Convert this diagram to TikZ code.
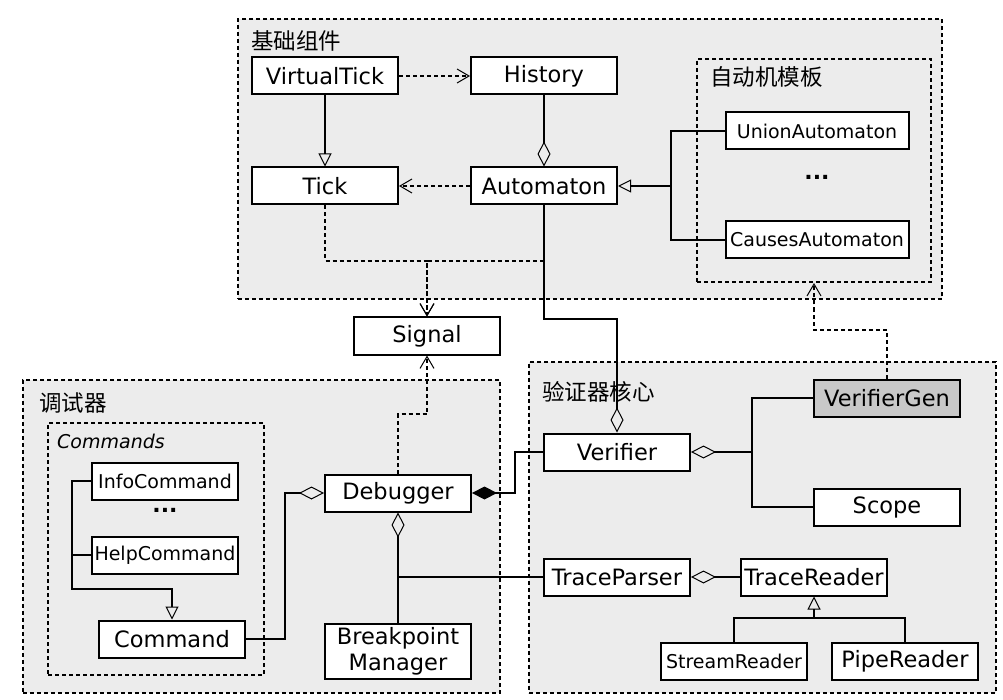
\documentclass[tikz,border=0pt]{standalone}
\usepackage{fontspec}
\setmainfont{DejaVu Sans}
\newfontfamily\cjk{Noto Sans CJK SC}
\usepackage{tikz}
\usetikzlibrary{arrows.meta}
\definecolor{groupgray}{RGB}{236,236,236}
\definecolor{gengray}{RGB}{200,200,200}
\tikzstyle{class} = [rectangle, draw, line width=2pt, fill=white,
                     minimum width=146pt, minimum height=37pt, inner sep=0pt,
                     text centered, font=\fontsize{22.5}{26}\selectfont]
\tikzstyle{smallclass} = [class, font=\fontsize{19}{22}\selectfont]
\tikzstyle{group} = [rectangle, draw, line width=2pt, fill=groupgray,
                     dash pattern=on 4pt off 3pt, inner sep=0pt]
\tikzstyle{grouplabel} = [anchor=west, inner sep=0pt, font=\cjk\fontsize{22.5}{25}\selectfont]
\tikzstyle{line} = [line width=2pt]
\tikzstyle{depend} = [line, dash pattern=on 4pt off 3pt,
                      -{Straight Barb[length=12pt, width=14pt, line width=1pt]}]
\tikzstyle{inherit} = [line, -{Triangle[open, length=13pt, width=13pt, line width=1pt]}]
\tikzstyle{aggregate} = [line, {Diamond[open, length=25pt, width=13pt, line width=1pt]}-]
\tikzstyle{compose} = [line, {Diamond[length=25pt, width=13pt]}-]

\begin{document}
\begin{tikzpicture}[x=1pt, y=-1pt]
    \fill[white] (0,0) rectangle (1003,700);
    \useasboundingbox (0,0) rectangle (1003,700);

    % Groups
    \node[group, minimum width=704pt, minimum height=280pt] (basegrp) at (590,159) {};
    \node[group, minimum width=234pt, minimum height=223pt] (templates) at (814,170.5) {};
    \node[group, minimum width=477pt, minimum height=313pt] (debuggergrp) at (261.5,536.5) {};
    \node[group, minimum width=216pt, minimum height=252pt] (commands) at (156,549) {};
    \node[group, minimum width=467pt, minimum height=331pt] (coregrp) at (762.5,527.5) {};
    \node[grouplabel] (baselabel) at (251,41) {基础组件};
    \node[grouplabel] (tpllabel) at (710,77) {自动机模板};
    \node[grouplabel] (dbglabel) at (39,403) {调试器};
    \node[grouplabel] (corelabel) at (542,392) {验证器核心};
    \node[anchor=west, inner sep=0pt, font=\fontsize{19}{22}\selectfont\itshape] (cmdlabel) at (57,441) {Commands};

    % Base components
    \node[class] (virtualtick) at (325,76) {VirtualTick};
    \node[class] (history) at (544,76) {History};
    \node[class] (tick) at (325,186) {Tick};
    \node[class] (automaton) at (544,186) {Automaton};
    \node[smallclass, minimum width=183pt] (union) at (817,131) {UnionAutomaton};
    \node[anchor=base, font=\fontsize{22}{26}\selectfont\bfseries] (tpldots) at (817,180) {...};
    \node[smallclass, minimum width=183pt] (causes) at (817,240) {CausesAutomaton};
    \node[class] (signal) at (427,336) {Signal};

    % Debugger
    \node[smallclass] (infocmd) at (165,481) {InfoCommand};
    \node[anchor=base, font=\fontsize{22}{26}\selectfont\bfseries] (cmddots) at (165,512) {...};
    \node[smallclass] (helpcmd) at (165,555) {HelpCommand};
    \node[class] (command) at (172,639) {Command};
    \node[class] (debugger) at (398,493) {Debugger};
    \node[class, minimum height=55pt, align=center] (bpmgr) at (398,651) {Breakpoint\\Manager};

    % Verifier core
    \node[class] (verifier) at (617,452) {Verifier};
    \node[class, fill=gengray] (verifiergen) at (887,398) {VerifierGen};
    \node[class] (scope) at (887,507) {Scope};
    \node[class] (traceparser) at (617,577) {TraceParser};
    \node[class] (tracereader) at (814,577) {TraceReader};
    \node[smallclass] (streamreader) at (734,661) {StreamReader};
    \node[class] (pipereader) at (905,661) {PipeReader};

    % Bend points
    \coordinate (tplbus) at (671,186);
    \coordinate (sigjoin) at (427,261);
    \coordinate (autobend) at (544,319);
    \coordinate (sigdrop) at (427,414);
    \coordinate (cmdbend) at (285,493);
    \coordinate (cmdbus) at (72,589);
    \coordinate (verbend) at (515,493);
    \coordinate (genbus) at (752,452);
    \coordinate (readerbus) at (814,618);
    \coordinate (genjog) at (814,330);

    % Base connectors
    \draw[depend] (virtualtick) -- (history);
    \draw[inherit] (virtualtick) -- (tick);
    \draw[aggregate] (automaton) -- (history);
    \draw[depend] (automaton) -- (tick);
    \draw[inherit] (union.west) -| (tplbus) -- (automaton.east);
    \draw[line] (causes.west) -| (tplbus);
    \draw[depend] (tick.south) |- (sigjoin) -- (signal.north);
    \draw[depend] (automaton.south) |- (sigjoin) -- (signal.north);
    \draw[aggregate] (verifier.north) |- (autobend) -- (automaton.south);

    % Debugger connectors
    \draw[depend] (debugger.north) |- (sigdrop) -- (signal.south);
    \draw[inherit] (infocmd.west) -| (cmdbus) -| (command.north);
    \draw[line] (helpcmd.west) -- (helpcmd.west -| cmdbus);
    \draw[aggregate] (debugger.west) -- (cmdbend) |- (command.east);
    \draw[aggregate] (debugger.south) -- (bpmgr.north);
    \draw[line] (traceparser.west) -- (traceparser.west -| bpmgr.north);
    \draw[compose] (debugger.east) -- (verbend) |- (verifier.west);

    % Verifier connectors
    \draw[aggregate] (verifier.east) -- (genbus) |- (verifiergen.west);
    \draw[line] (genbus) |- (scope.west);
    \draw[aggregate] (traceparser.east) -- (tracereader.west);
    \draw[inherit] (streamreader.north) |- (readerbus) -- (tracereader.south);
    \draw[line] (pipereader.north) |- (readerbus);
    \draw[depend] (verifiergen.north) |- (genjog) -- (templates.south);
\end{tikzpicture}
\end{document}
